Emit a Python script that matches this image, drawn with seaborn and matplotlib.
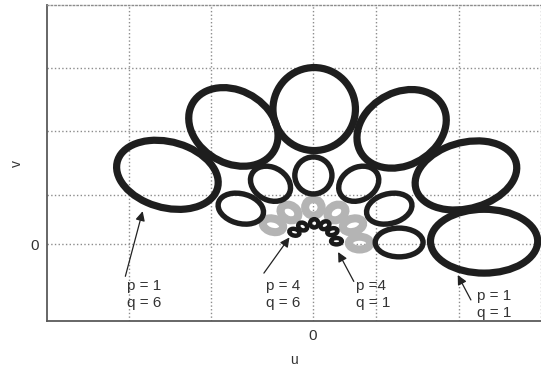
import matplotlib
matplotlib.use("Agg")
import matplotlib.pyplot as plt
from matplotlib.patches import Ellipse
import seaborn as sns

# ellipse rings (p = 1..4), q = 1..6 from right to left
# centres (u, v), semi-axes along / across the radius, orientation
p1_u = [2.08, 1.86, 1.08, 0.02, -0.96, -1.76]
p1_v = [0.05, 1.08, 1.81, 2.12, 1.84, 1.09]
p2_u = [1.05, 0.93, 0.56, 0.01, -0.51, -0.87]
p2_v = [0.03, 0.56, 0.95, 1.08, 0.95, 0.56]
p3_u = [0.57, 0.49, 0.29, 0.01, -0.28, -0.48]
p3_v = [0.02, 0.30, 0.50, 0.58, 0.50, 0.30]
p4_u = [0.29, 0.24, 0.15, 0.02, -0.12, -0.22]
p4_v = [0.05, 0.20, 0.30, 0.33, 0.28, 0.19]
angulos = [0, 30, 60, 90, 120, 150]

semi_radial = [0.65, 0.29, 0.13, 0.065]
semi_tang = [0.50, 0.225, 0.10, 0.05]
cores = ["#1e1e1e", "#1e1e1e", "#b4b4b4", "#1a1a1a"]
espessuras = [5.2, 3.9, 5.8, 3.2]

# rotulos das setas: texto, posicao do texto, cauda e ponta da seta
rotulos = ["p = 1\nq = 6", "p = 4\nq = 6", "p =4\nq = 1", "p = 1\nq = 1"]
texto_u = [-2.25, -0.56, 0.53, 2.00]
texto_v = [-0.78, -0.78, -0.78, -0.94]
cauda_u = [-2.27, -0.59, 0.50, 1.92]
cauda_v = [-0.50, -0.45, -0.58, -0.87]
ponta_u = [-2.06, -0.28, 0.31, 1.76]
ponta_v = [0.52, 0.11, -0.12, -0.48]

xticks = [-2.23, -1.23, 0, 0.77, 1.77, 2.77]
yticks = [0, 0.77, 1.77, 2.77]

sns.set_style("whitegrid", {"grid.linestyle": ":", "grid.color": "#8c8c8c"})
plt.rcParams["font.family"] = ["Liberation Sans", "DejaVu Sans"]

fig = plt.figure(figsize=(5.41, 3.67), dpi=100)
ax = fig.add_axes([47 / 541, 1 - 321 / 367, 494 / 541, 316 / 367])

centros = [(p1_u, p1_v), (p2_u, p2_v), (p3_u, p3_v), (p4_u, p4_v)]
ordem = [2, 0, 1, 3]  # cinza por baixo
for p in ordem:
    us, vs = centros[p]
    for u, v, a in zip(us, vs, angulos):
        e = Ellipse((u, v), 2 * semi_radial[p], 2 * semi_tang[p], angle=a,
                    fill=False, edgecolor=cores[p], linewidth=espessuras[p], zorder=3)
        ax.add_patch(e)

for i in range(len(rotulos)):
    ax.text(texto_u[i], texto_v[i], rotulos[i], ha="left", va="center",
            fontsize=11, color="#333333", linespacing=1.3, zorder=4)
    ax.annotate("", xy=(ponta_u[i], ponta_v[i]), xytext=(cauda_u[i], cauda_v[i]),
                arrowprops=dict(arrowstyle="-|>", color="#222222", lw=0.9,
                                mutation_scale=14, shrinkA=0, shrinkB=0), zorder=4)

ax.set_xlim(-3.22, 2.77)
ax.set_ylim(-1.20, 3.75)
ax.set_xticks(xticks)
ax.set_xticklabels(["0" if t == 0 else "" for t in xticks])
ax.set_yticks(yticks)
ax.set_yticklabels(["0" if t == 0 else "" for t in yticks])
ax.grid(True, linestyle=":", color="#8c8c8c", linewidth=1.0)

for lado in ["left", "bottom"]:
    ax.spines[lado].set_color("#5a5a5a")
    ax.spines[lado].set_linewidth(1.3)
ax.spines["top"].set_linestyle(":")
ax.spines["top"].set_color("#8c8c8c")
ax.spines["top"].set_linewidth(1.0)
ax.spines["right"].set_visible(False)

ax.tick_params(direction="in", length=3, width=1, color="#5a5a5a",
               labelsize=11, labelcolor="#333333", pad=6)

ax.set_xlabel("u", fontsize=10, color="#333333")
ax.set_ylabel("v", fontsize=10, color="#333333")
ax.xaxis.set_label_coords(0.5, -0.10)
ax.yaxis.set_label_coords(-0.047, 0.5)

fig.savefig("out.png", dpi=100)
